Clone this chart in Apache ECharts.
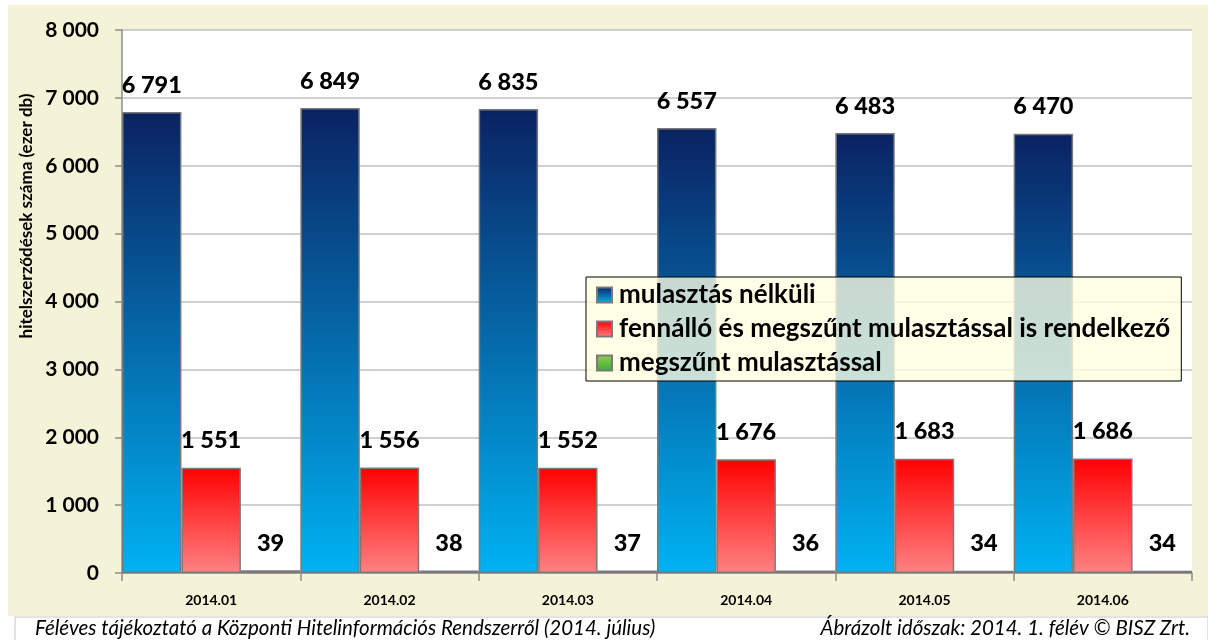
<!DOCTYPE html>
<html>
<head>
<meta charset="utf-8">
<script src="https://cdn.jsdelivr.net/npm/echarts@6/dist/echarts.min.js"></script>
<style>
  html, body { margin: 0; padding: 0; background: #fff; }
  #chart { width: 1208px; height: 640px; }
</style>
</head>
<body>
<div id="chart"></div>
<script>
// havi adatok (ezer db)
var categories = ['2014.01', '2014.02', '2014.03', '2014.04', '2014.05', '2014.06'];
var nelkuli = [6791, 6849, 6835, 6557, 6483, 6470];
var fennallo = [1551, 1556, 1552, 1676, 1683, 1686];
var megszunt = [39, 38, 37, 36, 34, 34];
var seriesNames = ['mulasztás nélküli', 'fennálló és megszűnt mulasztással is rendelkező', 'megszűnt mulasztással'];

function fmt(v) {
    return String(v).replace(/\B(?=(\d{3})+(?!\d))/g, ' ');
}

function grad(top, bottom) {
    return new echarts.graphic.LinearGradient(0, 0, 0, 1, [
        {offset: 0, color: top},
        {offset: 1, color: bottom}
    ]);
}

var FONT = 'Lato';

function barSeries(name, data, top, bottom) {
    return {
        name: name,
        type: 'bar',
        data: data,
        barGap: '0%',
        barCategoryGap: '0%',
        itemStyle: {
            color: grad(top, bottom),
            borderColor: '#7a7a7a',
            borderWidth: 1.5
        },
        label: {
            show: true,
            position: 'top',
            distance: 15,
            fontFamily: FONT,
            fontWeight: 900,
            fontSize: 23.5,
            color: '#000',
            formatter: function (p) { return fmt(p.value); }
        }
    };
}

var chart = echarts.init(document.getElementById('chart'));
var option = {
    animation: false,
    backgroundColor: '#fff',
    graphic: [
        {type: 'rect', z: -10, shape: {x: 8, y: 5, width: 1200, height: 611}, style: {fill: '#f5f3d7'}},
        {type: 'rect', z: -9, shape: {x: 15, y: 617, width: 1193, height: 30}, style: {fill: '#fff', stroke: '#c8c8c8', lineWidth: 1}},
        {type: 'rect', z: -8, shape: {x: 122, y: 30, width: 1070, height: 543}, style: {fill: '#fff'}},
        {type: 'text', left: 35, top: 618, style: {text: 'Féléves tájékoztató a Központi Hitelinformációs Rendszerről (2014. július)', font: 'italic 20.5px Lato', fill: '#000'}},
        {type: 'text', right: 18, top: 618, style: {text: 'Ábrázolt időszak: 2014. 1. félév © BISZ Zrt.', font: 'italic 20.5px Lato', fill: '#000'}},
        {type: 'text', x: 27, y: 216, rotation: Math.PI / 2, style: {text: 'hitelszerződések száma (ezer db)', font: 'bold 17px Lato', fill: '#000', align: 'center', verticalAlign: 'middle'}}
    ],
    grid: {left: 122, right: 16, top: 30, bottom: 67},
    legend: {
        data: seriesNames,
        orient: 'vertical',
        left: 586,
        top: 277,
        padding: [5, 11, 5, 10],
        itemGap: 8,
        itemWidth: 15,
        itemHeight: 15,
        icon: 'rect',
        backgroundColor: 'rgba(255,255,226,0.78)',
        borderColor: '#000',
        borderWidth: 1,
        textStyle: {fontFamily: FONT, fontWeight: 'bold', fontSize: 26, color: '#000', padding: [0, 0, 0, 2]}
    },
    xAxis: {
        type: 'category',
        data: categories,
        axisLine: {lineStyle: {color: '#8c8c8c', width: 1.5}},
        axisTick: {show: true, length: 8, lineStyle: {color: '#8c8c8c', width: 1.5}},
        axisLabel: {fontFamily: FONT, fontWeight: 'bold', fontSize: 14, color: '#000', margin: 20}
    },
    yAxis: {
        type: 'value',
        min: 0,
        max: 8000,
        interval: 1000,
        axisLine: {show: true, lineStyle: {color: '#8c8c8c', width: 1.5}},
        axisTick: {show: true, length: 7, lineStyle: {color: '#8c8c8c', width: 1.5}},
        axisLabel: {fontFamily: FONT, fontWeight: 'bold', fontSize: 21, color: '#000', margin: 23, formatter: fmt},
        splitLine: {lineStyle: {color: '#c0c0c0', width: 1.5}}
    },
    series: [
        barSeries(seriesNames[0], nelkuli, '#0b2262', '#00b2f2'),
        barSeries(seriesNames[1], fennallo, '#ff0000', '#ff8282'),
        barSeries(seriesNames[2], megszunt, '#92d050', '#3aaa35')
    ]
};
chart.setOption(option);
</script>
</body>
</html>
